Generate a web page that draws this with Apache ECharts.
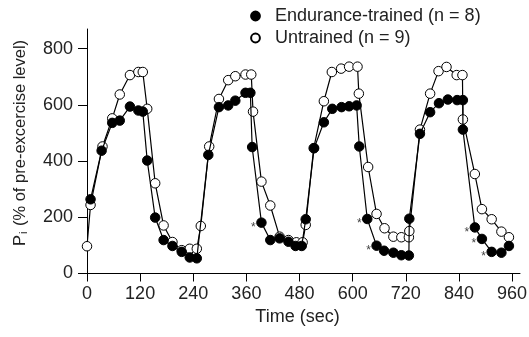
<!DOCTYPE html>
<html>
<head>
<meta charset="utf-8">
<script src="https://cdn.jsdelivr.net/npm/echarts@6/dist/echarts.min.js"></script>
<style>
html,body{margin:0;padding:0;background:#fff;}
#chart{width:529px;height:337px;}
</style>
</head>
<body>
<div id="chart"></div>
<script>
// Time (sec) and Pi (% of pre-exercise level)
const trainedTime = [8, 33, 57, 74, 97, 116, 126, 136, 154, 173, 193, 214, 232, 248, 274, 298, 319, 335, 358, 369, 373, 394, 414, 435, 455, 471, 485, 494, 513, 535, 554, 575, 592, 609, 615, 633, 654, 671, 692, 710, 727, 728, 752, 775, 795, 815, 836, 849, 849, 876, 892, 914, 936, 953];
const trainedValue = [264, 437, 536, 544, 594, 580, 576, 402, 199, 119, 98, 77, 57, 54, 422, 592, 598, 615, 643, 643, 450, 181, 119, 125, 113, 98, 98, 193, 446, 538, 586, 592, 595, 598, 452, 194, 99, 81, 74, 65, 64, 195, 497, 574, 606, 619, 617, 617, 512, 164, 123, 77, 74, 98];
const untrainedTime = [0, 8, 35, 57, 74, 97, 116, 126, 136, 154, 173, 193, 214, 232, 248, 257, 276, 298, 319, 335, 358, 371, 375, 394, 414, 435, 455, 473, 487, 494, 512, 535, 553, 574, 592, 611, 614, 635, 654, 672, 692, 710, 727, 728, 752, 775, 794, 812, 835, 848, 849, 876, 892, 914, 936, 953];
const untrainedValue = [97, 244, 452, 552, 637, 706, 717, 717, 586, 321, 171, 112, 83, 88, 88, 169, 452, 621, 688, 702, 708, 708, 576, 327, 242, 131, 119, 111, 111, 173, 446, 613, 717, 729, 736, 736, 640, 379, 212, 161, 131, 129, 129, 151, 512, 640, 720, 735, 706, 706, 548, 354, 229, 193, 149, 129];
// significant differences (asterisks) at these trained-series times
const sigTimes = [394, 633, 654, 876, 892, 914];
const xTicks = [0, 120, 240, 360, 480, 600, 720, 840, 960];
const yTicks = [0, 200, 400, 600, 800];
const seriesNames = ['Endurance-trained (n = 8)', 'Untrained (n = 9)'];

const FONT = '"Liberation Sans", Arial, Helvetica, sans-serif';
const TXT = '#222';

const trainedData = trainedTime.map((t, i) => {
  const item = { value: [t, trainedValue[i]] };
  if (sigTimes.includes(t)) {
    item.label = { show: true, formatter: '*', position: 'inside', offset: [-8, 5], color: '#444', fontSize: 12, fontFamily: FONT };
  }
  return item;
});
const untrainedData = untrainedTime.map((t, i) => [t, untrainedValue[i]]);

const chart = echarts.init(document.getElementById('chart'), null, { renderer: 'canvas' });
chart.setOption({
  animation: false,
  backgroundColor: '#fff',
  textStyle: { fontFamily: FONT },
  grid: { left: 87, right: 9, top: 29, bottom: 63.5, outerBoundsMode: 'none' },
  legend: {
    orient: 'vertical',
    left: 245, top: 2,
    itemWidth: 11, itemHeight: 11, itemGap: 4,
    data: seriesNames,
    lineStyle: { opacity: 0, width: 0 },
    textStyle: { fontSize: 18, color: TXT, fontFamily: FONT, padding: [0, 0, 0, 9], lineHeight: 18 },
    selectedMode: false
  },
  xAxis: {
    type: 'value', min: 0, max: 978, interval: 120,
    name: 'Time (sec)', nameLocation: 'middle', nameGap: 28,
    nameTextStyle: { fontSize: 18, color: TXT, fontFamily: FONT, padding: [0, 12, 0, 0] },
    axisLine: { show: true, onZero: false, lineStyle: { color: '#000', width: 1 } },
    axisTick: { show: true, length: 8, lineStyle: { color: '#000' }, customValues: xTicks },
    axisLabel: { fontSize: 18, color: TXT, margin: 12, fontFamily: FONT, customValues: xTicks },
    splitLine: { show: false }
  },
  yAxis: {
    type: 'value', min: 0, max: 870, interval: 200,
    axisLine: { show: true, onZero: false, lineStyle: { color: '#000', width: 1 } },
    axisTick: { show: true, length: 9, lineStyle: { color: '#000' }, customValues: yTicks },
    axisLabel: { fontSize: 18, color: TXT, margin: 14, fontFamily: FONT, customValues: yTicks },
    splitLine: { show: false }
  },
  graphic: [{
    type: 'text',
    x: 20, y: 143,
    rotation: Math.PI / 2,
    style: {
      text: '{a|P}{s|i}{a| (% of pre-excercise level)}',
      align: 'center', verticalAlign: 'middle',
      fill: TXT,
      rich: {
        a: { fontSize: 16.5, fontFamily: FONT, fill: TXT, color: TXT },
        s: { fontSize: 11, fontFamily: FONT, fill: TXT, color: TXT, padding: [7, 1, 0, 1] }
      }
    }
  }],
  series: [
    {
      name: seriesNames[0], type: 'line', data: trainedData, z: 3,
      symbol: 'circle', symbolSize: 9.5, showAllSymbol: true,
      itemStyle: { color: '#000', borderColor: '#000', borderWidth: 1 },
      lineStyle: { color: '#000', width: 1.2 },
      emphasis: { disabled: true }
    },
    {
      name: seriesNames[1], type: 'line', data: untrainedData, z: 2,
      symbol: 'circle', symbolSize: 9.5, showAllSymbol: true,
      itemStyle: { color: '#fff', borderColor: '#000', borderWidth: 1 },
      lineStyle: { color: '#000', width: 1.2 },
      emphasis: { disabled: true }
    }
  ]
});
</script>
</body>
</html>
